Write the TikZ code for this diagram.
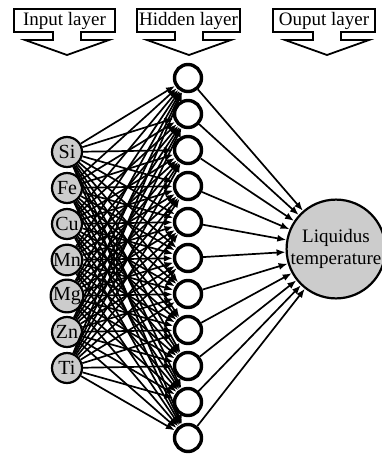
\documentclass[tikz,border=0pt]{standalone}
\usepackage{fontspec}
\setmainfont{Liberation Serif}
\usepackage{tikz}
\usetikzlibrary{arrows.meta,calc}
\definecolor{NetGray}{HTML}{CCCCCC}
\definecolor{NetDark}{HTML}{000000}
\newcommand{\layercallout}[3]{%
  \draw[callout] (#1,9) -- (#2,9) -- (#2,32) -- (#3+14,32) -- (#3+14,40) -- (#3+42,40)
    -- (#3,55) -- (#3-42,40) -- (#3-14,40) -- (#3-14,32) -- (#1,32) -- cycle;}

\begin{document}
\begin{tikzpicture}[x=1pt,y=-1pt,
  callout/.style={draw=NetDark,line width=1.8pt,fill=white,line join=miter},
  laylabel/.style={inner sep=0pt,font=\fontsize{19}{21}\selectfont},
  innode/.style={circle,draw=NetDark,line width=2.2pt,fill=NetGray,minimum size=30pt,inner sep=0pt,font=\fontsize{20}{22}\selectfont},
  hidnode/.style={circle,draw=NetDark,line width=3.4pt,fill=white,minimum size=27pt,inner sep=0pt},
  outnode/.style={circle,draw=NetDark,line width=2.2pt,fill=NetGray,minimum size=98pt,inner sep=0pt,align=center,font=\fontsize{19}{22}\selectfont},
  link/.style={draw=NetDark,line width=1.7pt,-{Latex[length=9pt,width=7pt]}}]
\clip (0,0) rectangle (382,461);
% layer captions
\layercallout{14}{115}{67}
\layercallout{137}{240}{189}
\layercallout{273}{375}{327}
\node[laylabel] (inlab) at (64.5,20.5) {Input layer};
\node[laylabel] (hidlab) at (188.5,20.5) {Hidden layer};
\node[laylabel] (outlab) at (324,20.5) {Ouput layer};
% neurons
\foreach \lab [count=\i] in {Si,Fe,Cu,Mn,Mg,Zn,Ti}
  \node[innode] (in\i) at (67,{152+36*(\i-1)}) {\lab};
\foreach \j in {1,...,11}
  \node[hidnode] (hid\j) at (188,{78+36*(\j-1)}) {};
\node[outnode] (out) at (336,249) {Liquidus\\temperature};
% connections
\foreach \i in {1,...,7}
  \foreach \j in {1,...,11}
    \draw[link] (in\i) -- (hid\j);
\foreach \j in {1,...,11}
  \draw[link] (hid\j) -- (out);
\end{tikzpicture}
\end{document}
